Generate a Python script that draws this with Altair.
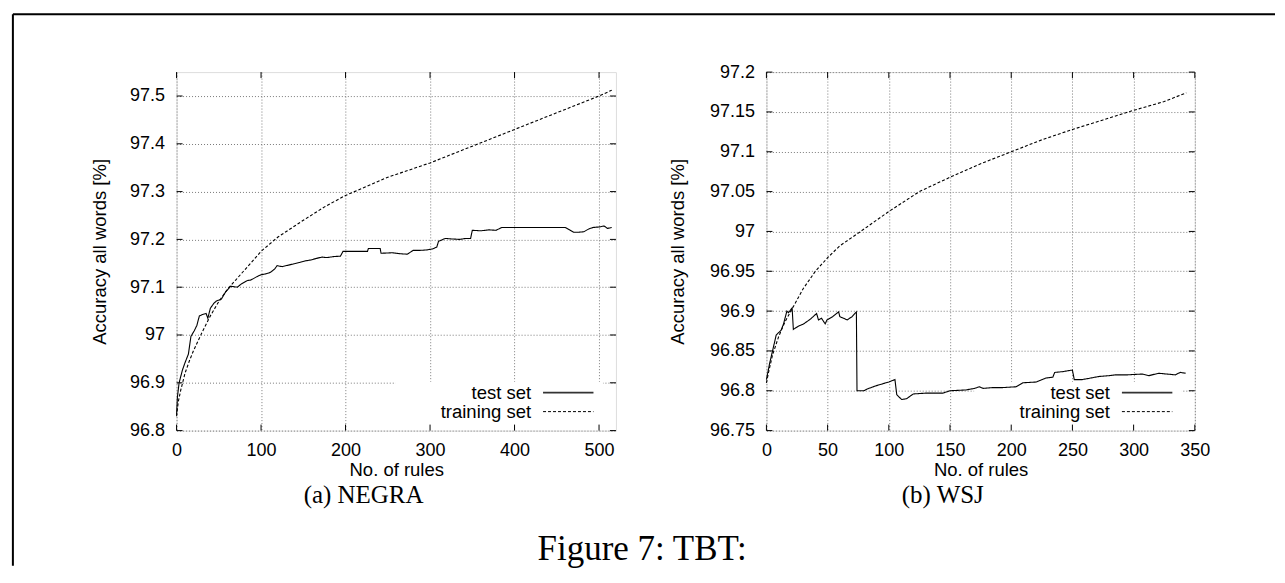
import altair as alt
import pandas as pd

SERIES = ["test set", "training set"]
X_TITLE = "No. of rules"
Y_TITLE = "Accuracy all words [%]"
CAPTIONS = ["(a) NEGRA", "(b) WSJ"]
FIGURE_CAPTION = "Figure 7: TBT:"

# ---- NEGRA panel data ----
NEGRA_TEST_X = [0, 1, 3, 7, 10, 14, 17, 21, 24, 27, 31, 35, 37, 40, 44, 47, 53, 58, 64, 72,
                76, 84, 88, 95, 100, 106, 111, 116, 119, 125, 132, 139, 146, 152, 159, 165, 172, 178, 186, 194,
                197, 205, 215, 226, 227, 241, 242, 255, 265, 273, 280, 288, 296, 303, 308, 310, 318, 325, 335, 342,
                348, 350, 360, 370, 378, 385, 395, 420, 445, 460, 465, 470, 476, 482, 488, 493, 500, 506, 510, 515]
NEGRA_TEST_Y = [96.833, 96.87, 96.90, 96.927, 96.942, 96.96, 96.997, 97.009, 97.02, 97.04,
                97.043, 97.045, 97.035, 97.056, 97.066, 97.071, 97.075, 97.09, 97.102, 97.10,
                97.106, 97.114, 97.115, 97.122, 97.126, 97.128, 97.131, 97.138, 97.145, 97.143,
                97.146, 97.149, 97.152, 97.155, 97.157, 97.160, 97.163, 97.162, 97.164, 97.165,
                97.175, 97.175, 97.175, 97.175, 97.181, 97.181, 97.171, 97.172, 97.170, 97.169,
                97.177, 97.177, 97.178, 97.180, 97.184, 97.196, 97.202, 97.201, 97.200, 97.202,
                97.202, 97.219, 97.218, 97.220, 97.219, 97.225, 97.225, 97.225, 97.225, 97.225,
                97.220, 97.215, 97.215, 97.216, 97.222, 97.225, 97.226, 97.228, 97.223, 97.225]
NEGRA_TRAIN_X = [0, 2, 5, 10, 15, 20, 30, 40, 50, 60, 70, 80, 100, 120, 150, 175, 200, 250, 300,
                 350, 400, 450, 500, 515]
NEGRA_TRAIN_Y = [96.83, 96.86, 96.885, 96.92, 96.945, 96.967, 97.005, 97.04, 97.07, 97.095, 97.115,
                 97.135, 97.175, 97.205, 97.24, 97.268, 97.292, 97.33, 97.36, 97.395, 97.43, 97.465,
                 97.50, 97.512]
NEGRA_XTICKS = [0, 100, 200, 300, 400, 500]
NEGRA_YTICKS = [96.8, 96.9, 97.0, 97.1, 97.2, 97.3, 97.4, 97.5]
NEGRA_XDOMAIN = [0, 520]
NEGRA_YDOMAIN = [96.8, 97.55]

# ---- WSJ panel data ----
WSJ_TEST_X = [0, 2.7, 5, 8, 12, 14, 16.7, 18, 21, 22, 26, 30.5, 36, 41, 42.5, 45, 48, 49.5, 54, 59,
              60, 63, 66, 70, 73.5, 74, 79.5, 82, 89, 95.5, 100, 105, 106.5, 110.5, 114.5, 120, 130,
              144, 150, 163, 170, 174, 177, 185, 193, 204, 209.5, 220.5, 228.5, 234, 235.5, 242, 250,
              251.5, 258, 265, 272, 280, 285.5, 295, 307, 312.5, 320.5, 327, 334, 338, 342.5]
WSJ_TEST_Y = [96.814, 96.835, 96.85, 96.87, 96.876, 96.884, 96.90, 96.898, 96.904, 96.877,
              96.881, 96.884, 96.89, 96.897, 96.889, 96.891, 96.884, 96.889, 96.893, 96.899,
              96.893, 96.891, 96.889, 96.893, 96.899, 96.80, 96.80, 96.802, 96.806, 96.809,
              96.811, 96.814, 96.795, 96.789, 96.79, 96.796, 96.797, 96.797, 96.80, 96.801,
              96.803, 96.805, 96.803, 96.804, 96.804, 96.805, 96.81, 96.811, 96.816, 96.817,
              96.823, 96.824, 96.826, 96.814, 96.814, 96.816, 96.818, 96.819, 96.82, 96.82,
              96.821, 96.819, 96.822, 96.821, 96.82, 96.823, 96.822]
WSJ_TRAIN_X = [0, 2, 5, 10, 15, 20, 30, 40, 50, 60, 77, 100, 125, 150, 175, 200, 225, 250, 275,
               300, 325, 343]
WSJ_TRAIN_Y = [96.81, 96.825, 96.845, 96.868, 96.886, 96.90, 96.928, 96.95, 96.967, 96.982, 97.0,
               97.025, 97.05, 97.068, 97.085, 97.10, 97.115, 97.128, 97.14, 97.152, 97.163, 97.174]
WSJ_XTICKS = [0, 50, 100, 150, 200, 250, 300, 350]
WSJ_YTICKS = [96.75, 96.8, 96.85, 96.9, 96.95, 97.0, 97.05, 97.1, 97.15, 97.2]
WSJ_XDOMAIN = [0, 350]
WSJ_YDOMAIN = [96.75, 97.2]

SANS = "Liberation Sans"
SERIF = "Liberation Serif"
W1, W2, H = 440, 429, 359
GAP = 150.7
TICK = 6


def long_df(test_x, test_y, train_x, train_y):
    rows = [{"rules": x, "acc": y, "series": SERIES[0]} for x, y in zip(test_x, test_y)]
    rows += [{"rules": x, "acc": y, "series": SERIES[1]} for x, y in zip(train_x, train_y)]
    return pd.DataFrame(rows)


def make_panel(df, xdom, ydom, xticks, yticks, W, ytitle_x, extra_layers=()):
    xs = alt.Scale(domain=xdom, nice=False, zero=False)
    ys = alt.Scale(domain=ydom, nice=False, zero=False)
    common = dict(grid=True, gridDash=[1, 2], gridColor="#7a7a7a", gridWidth=1,
                  ticks=False, domain=False, labelFont=SANS, labelFontSize=18,
                  labelColor="black", titleFont=SANS, titleFontSize=18.5,
                  titleFontWeight="normal", titleColor="black", labelFlush=False,
                  labelOverlap=False, labelBound=False)
    xaxis = alt.Axis(values=xticks, title=X_TITLE, format="d", labelPadding=11,
                     titleX=W / 2, titleY=45, titleBaseline="alphabetic",
                     titleAlign="center", **common)
    yaxis = alt.Axis(values=yticks, title=Y_TITLE, format="~g", labelPadding=12,
                     titleAngle=270, titleX=ytitle_x, titleY=H / 2,
                     titleBaseline="middle", titleAlign="center", **common)

    one = pd.DataFrame({"k": [0]})
    keybox = alt.Chart(one).mark_rect(fill="white").encode(
        x=alt.value(W - 221), x2=alt.value(W - 13), y=alt.value(H - 49), y2=alt.value(H - 0.5))

    lines = alt.Chart(df).mark_line(color="black", strokeWidth=1.1).encode(
        x=alt.X("rules:Q", scale=xs, axis=xaxis),
        y=alt.Y("acc:Q", scale=ys, axis=yaxis),
        strokeDash=alt.StrokeDash("series:N", scale=alt.Scale(domain=SERIES, range=[[1, 0], [3, 2]]),
                                  legend=None),
        detail="series:N",
    )

    xt = pd.DataFrame({"rules": xticks})
    yt = pd.DataFrame({"acc": yticks})
    tick_layers = []
    for y0, y1 in [(H, H - TICK), (0, TICK)]:
        tick_layers.append(alt.Chart(xt).mark_rule(color="black", strokeWidth=1).encode(
            x=alt.X("rules:Q", scale=xs, axis=xaxis), y=alt.value(y0), y2=alt.value(y1)))
    for x0, x1 in [(0, TICK), (W - TICK, W)]:
        tick_layers.append(alt.Chart(yt).mark_rule(color="black", strokeWidth=1).encode(
            y=alt.Y("acc:Q", scale=ys, axis=yaxis), x=alt.value(x0), x2=alt.value(x1)))

    legend_layers = []
    for i, name in enumerate(SERIES):
        ly = H - 38 + 19 * i
        ldf = pd.DataFrame({"label": [name]})
        legend_layers.append(alt.Chart(ldf).mark_text(
            font=SANS, fontSize=18.5, align="right", baseline="middle", color="black").encode(
            x=alt.value(W - 85), y=alt.value(ly), text="label:N"))
        dash = [1, 0] if i == 0 else [3, 2]
        legend_layers.append(alt.Chart(ldf).mark_rule(
            color="#333333" if i == 0 else "black", strokeWidth=1.6 if i == 0 else 1,
            strokeDash=dash).encode(
            x=alt.value(W - 73), x2=alt.value(W - 22.5), y=alt.value(ly)))

    return alt.layer(keybox, lines, *tick_layers, *legend_layers, *extra_layers).properties(
        width=W, height=H)


one = pd.DataFrame({"k": [0]})
frame_left = alt.Chart(one).mark_rule(color="black", strokeWidth=2).encode(
    x=alt.value(-163.9), y=alt.value(-57.9), y2=alt.value(494.3))
frame_top = alt.Chart(one).mark_rule(color="black", strokeWidth=2).encode(
    x=alt.value(-163.9), x2=alt.value(1100), y=alt.value(-57.9))

cap_a = alt.Chart(pd.DataFrame({"label": [CAPTIONS[0]]})).mark_text(
    font=SERIF, fontSize=25, align="center", baseline="middle", color="black").encode(
    x=alt.value(187.3), y=alt.value(423.3), text="label:N")
cap_b = alt.Chart(pd.DataFrame({"label": [CAPTIONS[1]]})).mark_text(
    font=SERIF, fontSize=25, align="center", baseline="middle", color="black").encode(
    x=alt.value(767.3), y=alt.value(423.3), text="label:N")
cap_fig = alt.Chart(pd.DataFrame({"label": [FIGURE_CAPTION]})).mark_text(
    font=SERIF, fontSize=35, align="center", baseline="middle", color="black").encode(
    x=alt.value(466.3), y=alt.value(477.3), text="label:N")

left = make_panel(long_df(NEGRA_TEST_X, NEGRA_TEST_Y, NEGRA_TRAIN_X, NEGRA_TRAIN_Y),
                  NEGRA_XDOMAIN, NEGRA_YDOMAIN, NEGRA_XTICKS, NEGRA_YTICKS, W1, -77.2,
                  extra_layers=(frame_left, frame_top, cap_a, cap_b, cap_fig))
right = make_panel(long_df(WSJ_TEST_X, WSJ_TEST_Y, WSJ_TRAIN_X, WSJ_TRAIN_Y),
                   WSJ_XDOMAIN, WSJ_YDOMAIN, WSJ_XTICKS, WSJ_YTICKS, W2, -88.7)

chart = alt.hconcat(left, right, spacing=GAP, bounds="flush").properties(
    padding={"left": 2.8, "top": 3.8, "right": 0, "bottom": 0}
).configure_view(stroke="black", strokeWidth=1.3).configure(background="white")

chart.save("out.html", embed_options={"renderer": "svg", "actions": False})
